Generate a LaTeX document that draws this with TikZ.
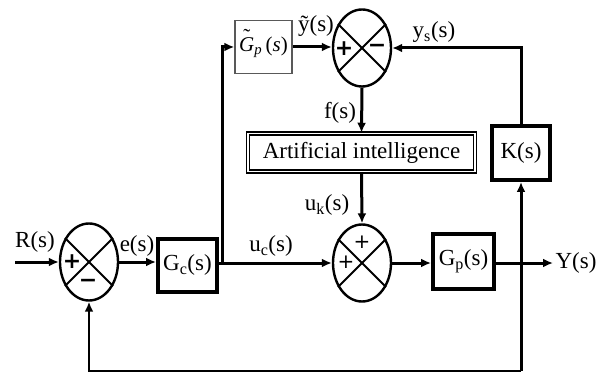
\documentclass[tikz,border=0pt]{standalone}
\usepackage{fontspec}
\setmainfont{Liberation Serif}
\newfontfamily\signfont{DejaVu Sans}
\usetikzlibrary{shapes.geometric,arrows.meta}
\newcommand\tildeG{\ooalign{\textit{G}\cr\hidewidth\raisebox{0.38em}{\char"02DC}\hidewidth\cr}}
\begin{document}
\begin{tikzpicture}[x=1pt,y=-1pt,
  every node/.style={font=\fontsize{23}{26}\selectfont},
  sumj/.style={draw,ellipse,line width=2.4pt,minimum width=58pt,minimum height=77pt,inner sep=0pt},
  blk/.style={draw,line width=4pt,inner sep=0pt},
  sig/.style={font=\signfont\bfseries\fontsize{22}{22}\selectfont,inner sep=0pt},
  lbl/.style={inner sep=0pt},
  conn/.style={line width=3pt,-{Latex[length=10pt,width=9pt]}}]
\useasboundingbox (0,0) rectangle (602,374);
% summing junctions
\node[sumj] (j1) at (89,262) {};
\node[sumj] (j2) at (362,48) {};
\node[sumj] (j3) at (362,263) {};
\foreach \j in {j1,j2,j3}{
  \draw[line width=2pt] (\j.45) -- (\j.225);
  \draw[line width=2pt] (\j.135) -- (\j.315);
}
% signs
\node[sig] (s1a) at (72,262) {+};
\node[sig] (s1b) at (88,283) {−};
\node[sig] (s2a) at (344,49) {+};
\node[sig] (s2b) at (377,48) {−};
\node[sig,font=\signfont\fontsize{20}{20}\selectfont] (s3a) at (362,242) {+};
\node[sig,font=\signfont\fontsize{20}{20}\selectfont] (s3b) at (346,262) {+};
% blocks
\node[blk,minimum width=59pt,minimum height=53pt] (gc) at (187.5,265) {G\textsubscript{c}(s)};
\node[draw,line width=1.5pt,draw=black!65,minimum width=57pt,minimum height=53pt,inner sep=0pt,font=\fontsize{21}{24}\selectfont] (gpt) at (263.5,47) {\tildeG\textsubscript{\textit{p}}\,(\textit{s})};
\node[draw,line width=1.5pt,double,double distance=1.5pt,minimum width=227pt,minimum height=38pt,inner sep=0pt] (ai) at (361.5,152.5) {Artificial intelligence};
\node[blk,minimum width=61pt,minimum height=55pt] (gp) at (463.5,261) {G\textsubscript{p}(s)};
\node[blk,minimum width=58pt,minimum height=54pt] (k) at (521,153) {K(s)};
% coordinates
\coordinate (in) at (15,262);
\coordinate (br) at (222,263);
\coordinate (out) at (553,263);
\coordinate (fb) at (521,371);
% connectors
\draw[conn] (in) -- (j1.west);
\draw[conn] (j1.east) -- (gc.west |- j1.east);
\draw[conn] (gc.east |- j3.west) -- (j3.west);
\draw[conn] (br) |- (gpt.west);
\draw[conn] (gpt.east) -- (j2.west |- gpt.east);
\draw[conn] (k.north) |- (j2.east);
\draw[conn] (j2.south) -- (ai.north);
\draw[conn] (ai.south) -- (j3.north);
\draw[conn] (j3.east) -- (gp.west |- j3.east);
\draw[conn] (gp.east |- j3.east) -- (out);
\draw[conn] (fb) -- (k.south);
\draw[conn,line width=2.2pt] (fb) -| (j1.south);
% labels
\node[lbl] (lr) at (35,242) {R(s)};
\node[lbl] (le) at (137,246) {e(s)};
\node[lbl] (luc) at (271,246) {u\textsubscript{c}(s)};
\node[lbl] (ly) at (316,26) {ỹ(s)};
\node[lbl] (lys) at (434,32) {y\textsubscript{s}(s)};
\node[lbl] (lf) at (340,113) {f(s)};
\node[lbl] (luk) at (327,205) {u\textsubscript{k}(s)};
\node[lbl] (lY) at (576,263) {Y(s)};
\end{tikzpicture}
\end{document}
